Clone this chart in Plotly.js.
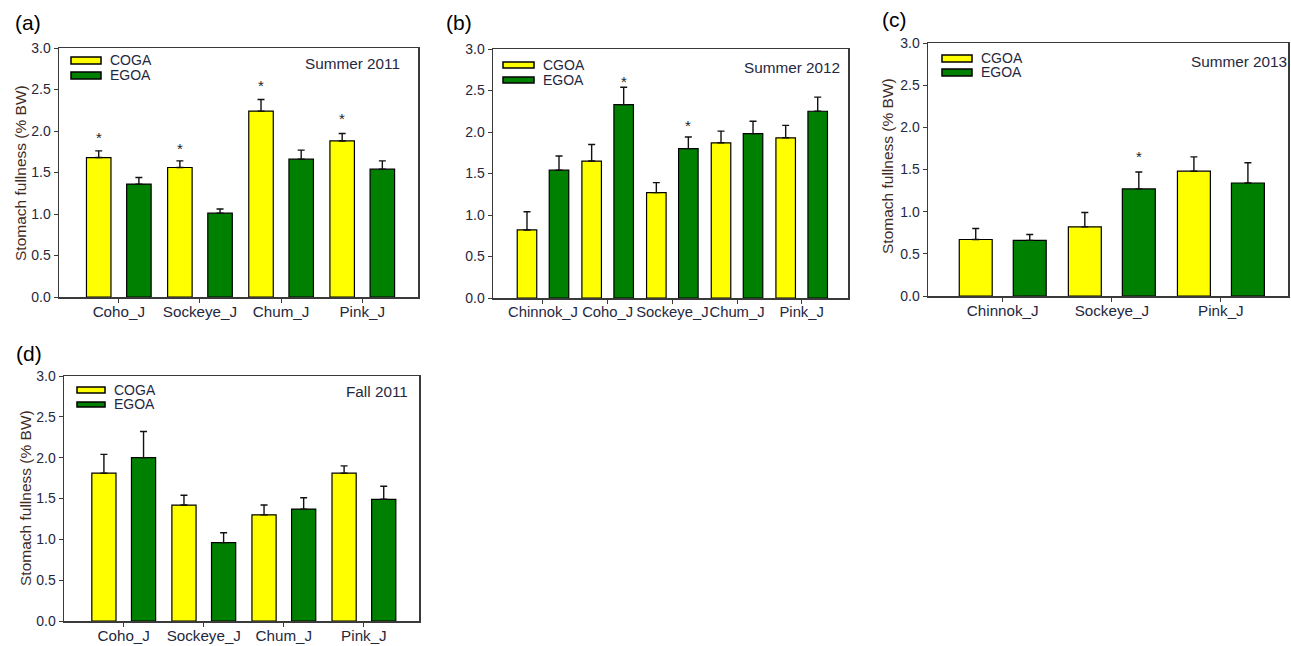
<!DOCTYPE html>
<html>
<head>
<meta charset="utf-8">
<script src="https://cdn.plot.ly/plotly-3.0.1.min.js"></script>
<style>html,body{margin:0;padding:0;background:#fff;}#chart{width:1291px;height:646px;}</style>
</head>
<body>
<div id="chart"></div>
<script>
// ---------- DATA ----------
const yTicks = [0, 0.5, 1.0, 1.5, 2.0, 2.5, 3.0];
const yTitle = 'Stomach fullness (% BW)';

// (a) Summer 2011
const catsA = ['Coho_J', 'Sockeye_J', 'Chum_J', 'Pink_J'];
const aCOGA = [1.68, 1.56, 2.24, 1.88];
const aCOGAse = [0.08, 0.08, 0.14, 0.09];
const aEGOA = [1.36, 1.01, 1.66, 1.54];
const aEGOAse = [0.08, 0.05, 0.11, 0.10];
const aStarCOGA = [1.96, 1.82, 2.59, 2.19];
const aStarEGOA = [null, null, null, null];

// (b) Summer 2012
const catsB = ['Chinnok_J', 'Coho_J', 'Sockeye_J', 'Chum_J', 'Pink_J'];
const bCGOA = [0.82, 1.65, 1.27, 1.87, 1.93];
const bCGOAse = [0.22, 0.20, 0.12, 0.14, 0.15];
const bEGOA = [1.54, 2.33, 1.80, 1.98, 2.25];
const bEGOAse = [0.17, 0.21, 0.14, 0.15, 0.17];
const bStarCGOA = [null, null, null, null, null];
const bStarEGOA = [null, 2.64, 2.11, null, null];

// (c) Summer 2013
const catsC = ['Chinnok_J', 'Sockeye_J', 'Pink_J'];
const cCGOA = [0.67, 0.82, 1.48];
const cCGOAse = [0.13, 0.17, 0.17];
const cEGOA = [0.66, 1.27, 1.34];
const cEGOAse = [0.07, 0.20, 0.24];
const cStarCGOA = [null, null, null];
const cStarEGOA = [null, 1.69, null];

// (d) Fall 2011
const catsD = ['Coho_J', 'Sockeye_J', 'Chum_J', 'Pink_J'];
const dCOGA = [1.81, 1.42, 1.30, 1.81];
const dCOGAse = [0.23, 0.12, 0.12, 0.09];
const dEGOA = [2.00, 0.96, 1.37, 1.49];
const dEGOAse = [0.32, 0.12, 0.14, 0.16];
const dStarCOGA = [null, null, null, null];
const dStarEGOA = [null, null, null, null];

// ---------- LAYOUT CONFIG ----------
const W = 1291, H = 646;
const FONT = 'Liberation Sans, Arial, sans-serif';
const YELLOW = '#ffff00', GREEN = '#008000';
const TXT = '#1f2840', TITLEC = '#3f2c1e';
const BARGAP = 0.01, GROUPGAP = 0.39;

const panels = [
  {id: '', label: '(a)', labelPos: [28, 23], box: [59, 48, 418, 297], cats: catsA,
   s1: aCOGA, s1e: aCOGAse, s2: aEGOA, s2e: aEGOAse, st1: aStarCOGA, st2: aStarEGOA,
   names: ['COGA', 'EGOA'], title: 'Summer 2011', titlePos: [402, 64], range: [-0.737, 3.687],
   ytitlePos: [20, 173], xfont: 15.2,
   leg: {x0: 12, x1: 42, y1: [9, 16], y2: [24, 31], tx: 49}},
  {id: '2', label: '(b)', labelPos: [459, 23], box: [493, 49, 848, 298], cats: catsB,
   s1: bCGOA, s1e: bCGOAse, s2: bEGOA, s2e: bEGOAse, st1: bStarCGOA, st2: bStarEGOA,
   names: ['CGOA', 'EGOA'], title: 'Summer 2012', titlePos: [842, 67], range: [-0.773, 4.716],
   ytitlePos: null, xfont: 14.8,
   leg: {x0: 10, x1: 41, y1: [13, 19], y2: [28, 34], tx: 48}},
  {id: '3', label: '(c)', labelPos: [894, 19], box: [928, 43, 1288, 296], cats: catsC,
   s1: cCGOA, s1e: cCGOAse, s2: cEGOA, s2e: cEGOAse, st1: cStarCGOA, st2: cStarEGOA,
   names: ['CGOA', 'EGOA'], title: 'Summer 2013', titlePos: [1289, 61], range: [-0.685, 2.615],
   ytitlePos: [887, 166], xfont: 15.2,
   leg: {x0: 14, x1: 44, y1: [12, 19], y2: [26, 33], tx: 51}},
  {id: '4', label: '(d)', labelPos: [29, 353], box: [64, 376, 419, 621], cats: catsD,
   s1: dCOGA, s1e: dCOGAse, s2: dEGOA, s2e: dEGOAse, st1: dStarCOGA, st2: dStarEGOA,
   names: ['COGA', 'EGOA'], title: 'Fall 2011', titlePos: [410, 392], range: [-0.746, 3.688],
   ytitlePos: [25, 498], xfont: 15.2,
   leg: {x0: 13, x1: 41, y1: [11, 17], y2: [26, 31], tx: 48}}
];

const data = [];
const layout = {
  width: W, height: H,
  margin: {l: 0, r: 0, t: 0, b: 0},
  paper_bgcolor: '#fff', plot_bgcolor: '#fff',
  barmode: 'group', bargap: BARGAP, bargroupgap: GROUPGAP,
  showlegend: false,
  font: {family: FONT, color: TXT},
  annotations: [], shapes: []
};

panels.forEach(p => {
  const [l, t, r, b] = p.box;
  const xa = 'x' + p.id, ya = 'y' + p.id;
  const pw = r - l, ph = b - t;
  const zeros = p.s1.map(() => 0);
  const mk = (vals, se, color, name) => ({
    type: 'bar', name: name, x: p.cats, y: vals, xaxis: xa, yaxis: ya,
    marker: {color: color, line: {color: '#000', width: 1.2}},
    error_y: {type: 'data', symmetric: false, array: se, arrayminus: zeros,
              color: '#111', thickness: 1.4, width: 3.5},
    hoverinfo: 'x+y'
  });
  data.push(mk(p.s1, p.s1e, YELLOW, p.names[0]));
  data.push(mk(p.s2, p.s2e, GREEN, p.names[1]));

  layout['xaxis' + p.id] = {
    domain: [l / W, r / W], anchor: ya, type: 'category', range: p.range,
    showline: true, mirror: true, linecolor: '#3a3a3a', linewidth: 1.5,
    ticks: 'outside', ticklen: 4, tickwidth: 1, tickcolor: '#3a3a3a',
    tickangle: 0, ticklabelstandoff: -4,
    showgrid: false, zeroline: false, fixedrange: true,
    tickfont: {family: FONT, size: p.xfont, color: TXT}
  };
  layout['yaxis' + p.id] = {
    domain: [1 - b / H, 1 - t / H], anchor: xa, range: [0, 3],
    tickvals: yTicks, tickformat: '.1f',
    showline: true, mirror: true, linecolor: '#3a3a3a', linewidth: 1.5,
    ticks: 'outside', ticklen: 4, tickwidth: 1, tickcolor: '#3a3a3a',
    showgrid: false, zeroline: false, fixedrange: true,
    tickfont: {family: FONT, size: 14, color: TXT}
  };

  // y-axis title (rotated text)
  if (p.ytitlePos) {
    layout.annotations.push({xref: 'paper', yref: 'paper', x: p.ytitlePos[0] / W, y: 1 - p.ytitlePos[1] / H,
      xanchor: 'center', yanchor: 'middle', showarrow: false, textangle: -90, text: yTitle,
      font: {family: FONT, size: 15.5, color: TITLEC}});
  }
  // panel label
  layout.annotations.push({xref: 'paper', yref: 'paper', x: p.labelPos[0] / W, y: 1 - p.labelPos[1] / H,
    xanchor: 'center', yanchor: 'middle', showarrow: false, text: p.label,
    font: {family: FONT, size: 21, color: '#000'}});
  // season title
  layout.annotations.push({xref: xa + ' domain', yref: ya + ' domain',
    x: (p.titlePos[0] - l) / pw, y: 1 - (p.titlePos[1] - t) / ph,
    xanchor: 'right', yanchor: 'middle', showarrow: false, text: p.title,
    font: {family: FONT, size: 15.3, color: TXT}});
  // legend (swatches + labels)
  const L = p.leg;
  [[L.y1, YELLOW, p.names[0]], [L.y2, GREEN, p.names[1]]].forEach(([yy, col, nm]) => {
    layout.shapes.push({type: 'rect', xref: xa + ' domain', yref: ya + ' domain',
      x0: L.x0 / pw, x1: L.x1 / pw, y0: 1 - yy[1] / ph, y1: 1 - yy[0] / ph,
      fillcolor: col, line: {color: '#000', width: 1.5}});
    layout.annotations.push({xref: xa + ' domain', yref: ya + ' domain',
      x: L.tx / pw, y: 1 - ((yy[0] + yy[1]) / 2) / ph, xanchor: 'left', yanchor: 'middle',
      showarrow: false, text: nm, font: {family: FONT, size: 14, color: TXT}});
  });
  // significance asterisks
  const catPx = pw / (p.range[1] - p.range[0]);
  const off = (1 - BARGAP) / 4 * catPx;
  [[p.st1, -off], [p.st2, off]].forEach(([arr, sh]) => {
    arr.forEach((v, i) => {
      if (v === null) return;
      layout.annotations.push({xref: xa, yref: ya, x: p.cats[i], y: v, xshift: sh, yshift: -3,
        xanchor: 'center', yanchor: 'middle', showarrow: false, text: '*',
        font: {family: FONT, size: 15, color: '#222'}});
    });
  });
});

Plotly.newPlot('chart', data, layout, {displayModeBar: false, staticPlot: true});
</script>
</body>
</html>
